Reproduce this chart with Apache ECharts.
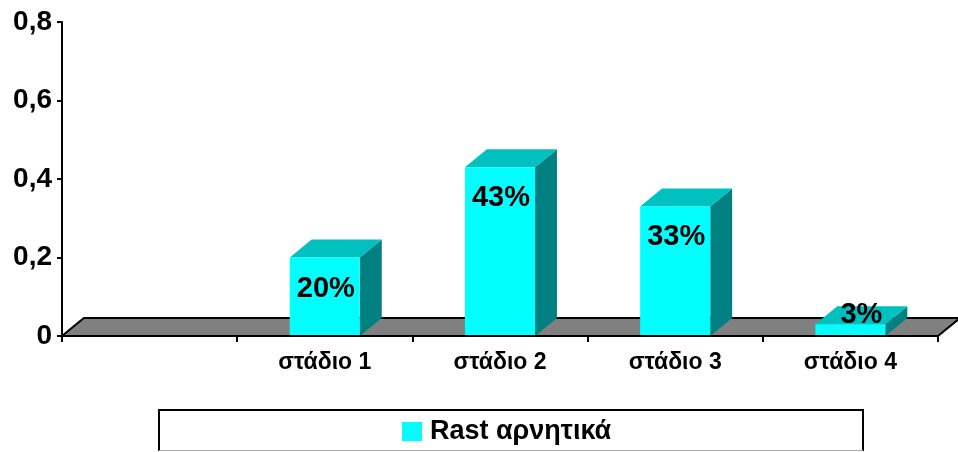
<!DOCTYPE html>
<html>
<head>
<meta charset="utf-8">
<script src="https://cdn.jsdelivr.net/npm/echarts@6/dist/echarts.min.js"></script>
<style>
html,body{margin:0;padding:0;background:#fff;}
#c{width:958px;height:452px;}
</style>
</head>
<body>
<div id="c"></div>
<script>
// ---- data ----
const categories = ['', 'στάδιο 1', 'στάδιο 2', 'στάδιο 3', 'στάδιο 4'];
const values = [null, 0.20, 0.43, 0.33, 0.03];
const labels = ['', '20%', '43%', '33%', '3%'];
const seriesName = 'Rast αρνητικά';
const yTicks = [0, 0.2, 0.4, 0.6, 0.8];

const FONT = 'Arial, "Liberation Sans", sans-serif';
const FRONT = '#00FFFF', TOP = '#00C0C0', SIDE = '#008080';

const chart = echarts.init(document.getElementById('c'), null, {renderer: 'canvas'});

function depth(api) {
  const band = api.size([1, 0])[0];
  const dx = band * 0.125;
  return [dx, -dx * 0.82];
}

const barData = values.map((v, i) => [i, v]);

const option = {
  animation: false,
  backgroundColor: '#fff',
  grid: {left: 62, right: 20, top: 22, bottom: 116, containLabel: false},
  xAxis: {
    type: 'category',
    data: categories,
    boundaryGap: true,
    z: 10,
    axisLine: {show: true, lineStyle: {color: '#000', width: 2}},
    axisTick: {show: true, alignWithLabel: false, length: 6, lineStyle: {color: '#000', width: 2}},
    axisLabel: {color: '#000', fontFamily: FONT, fontWeight: 'bold', fontSize: 23, margin: 15, interval: 0},
    splitLine: {show: false}
  },
  yAxis: {
    type: 'value',
    min: yTicks[0],
    max: yTicks[yTicks.length - 1],
    interval: yTicks[1] - yTicks[0],
    z: 10,
    axisLine: {show: true, lineStyle: {color: '#000', width: 2}},
    axisTick: {show: true, length: 5, lineStyle: {color: '#000', width: 2}},
    axisLabel: {
      color: '#000', fontFamily: FONT, fontWeight: 'bold', fontSize: 28, margin: 10,
      formatter: v => String(Math.round(v * 10) / 10).replace('.', ',')
    },
    splitLine: {show: false}
  },
  legend: {
    data: [{name: seriesName, icon: 'rect'}],
    left: 402,
    top: 418,
    padding: 0,
    itemWidth: 20,
    itemHeight: 19,
    selectedMode: false,
    textStyle: {color: '#000', fontFamily: FONT, fontWeight: 'bold', fontSize: 27, lineHeight: 27, padding: [0, 0, 0, 3]}
  },
  graphic: [
    {type: 'polyline', z: -1, shape: {points: [[159, 451], [159, 410], [863, 410], [863, 451]]},
     style: {stroke: '#000', lineWidth: 2, fill: null}},
    {type: 'line', z: -1, shape: {x1: 159, y1: 450.5, x2: 863, y2: 450.5},
     style: {stroke: '#aaa', lineWidth: 1}}
  ],
  series: [
    {
      type: 'custom',
      name: 'floor',
      z: 1,
      silent: true,
      data: [[0]],
      renderItem: function (params, api) {
        const band = api.size([1, 0])[0];
        const first = api.coord([0, 0]);
        const last = api.coord([categories.length - 1, 0]);
        const [dx, dy] = depth(api);
        const l = first[0] - band / 2, r = last[0] + band / 2, y = first[1];
        return {
          type: 'polygon',
          shape: {points: [[l, y], [r, y], [r + dx, y + dy], [l + dx, y + dy]]},
          style: {fill: '#808080', stroke: '#000', lineWidth: 2}
        };
      }
    },
    {
      type: 'custom',
      name: seriesName,
      z: 3,
      itemStyle: {color: FRONT},
      encode: {x: 0, y: 1},
      data: barData,
      renderItem: function (params, api) {
        const v = api.value(1);
        if (v == null || isNaN(v)) return null;
        const i = api.value(0);
        const base = api.coord([i, 0]);
        const top = api.coord([i, v]);
        const bw = api.size([1, 0])[0] * 0.4;
        const [dx, dy] = depth(api);
        const x0 = base[0] - bw / 2, x1 = base[0] + bw / 2;
        const yb = base[1], yt = top[1];
        const h = yb - yt;
        let lx, ly;
        if (h > 40) { lx = (x0 + x1) / 2 + 1; ly = yt + 31; }
        else { lx = (x0 + x1) / 2 + dx / 2; ly = yt + dy / 2; }
        return {
          type: 'group',
          children: [
            {type: 'polygon', shape: {points: [[x1, yb], [x1 + dx, yb + dy], [x1 + dx, yt + dy], [x1, yt]]},
             style: {fill: SIDE}},
            {type: 'polygon', shape: {points: [[x0, yt], [x1, yt], [x1 + dx, yt + dy], [x0 + dx, yt + dy]]},
             style: {fill: TOP}},
            {type: 'rect', shape: {x: x0, y: yt, width: bw, height: h}, style: {fill: FRONT}},
            {type: 'text', z2: 10, style: {text: labels[i], x: lx, y: ly, align: 'center', verticalAlign: 'middle',
              fill: '#000', font: 'bold 29px ' + FONT}}
          ]
        };
      }
    }
  ]
};
chart.setOption(option);
</script>
</body>
</html>
